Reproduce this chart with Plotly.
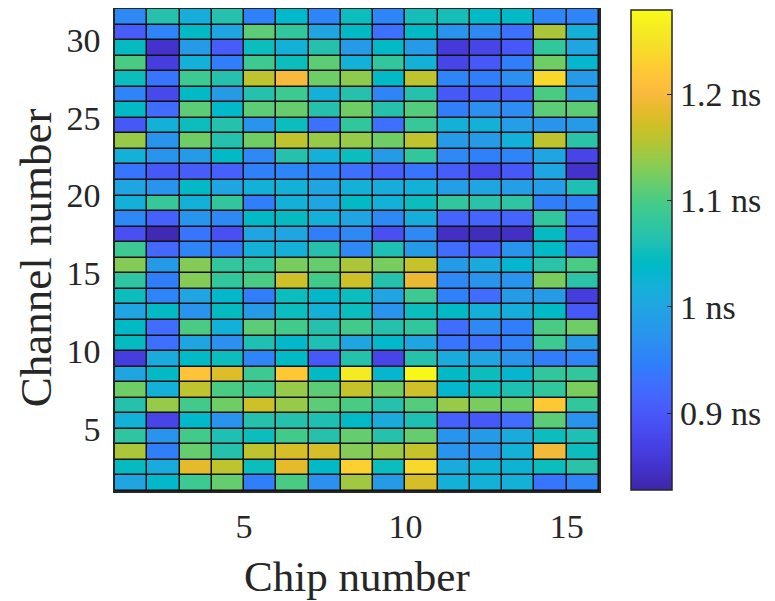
import plotly.graph_objects as go

# Chip numbers (cell edges, pcolor style) and channel numbers (cell edges)
chip_edges = list(range(1, 17))      # 15 cells between 1..16
channel_edges = list(range(1, 33))   # 31 cells between 1..32

# Delay values in ns, one list per channel row (bottom row = channel 1), 15 chips each
ch01 = [1.000, 1.035, 1.090, 1.115, 0.945, 1.100, 0.970, 1.145, 0.985, 1.175, 1.020, 1.020, 1.020, 0.935, 0.955]
ch02 = [1.045, 1.010, 1.185, 1.160, 1.050, 1.185, 1.040, 1.230, 1.050, 1.240, 1.010, 1.025, 1.025, 1.050, 1.070]
ch03 = [1.150, 0.945, 1.115, 1.065, 1.160, 1.175, 1.175, 1.130, 1.140, 1.165, 0.975, 0.975, 1.020, 1.195, 1.050]
ch04 = [1.075, 0.975, 1.095, 1.060, 1.050, 1.095, 1.065, 1.115, 1.065, 1.115, 0.975, 0.985, 1.010, 1.050, 1.060]
ch05 = [1.020, 0.875, 1.035, 0.975, 1.065, 1.065, 1.060, 1.040, 1.010, 1.060, 0.910, 0.900, 0.925, 1.110, 0.975]
ch06 = [1.065, 1.140, 1.095, 1.120, 1.170, 1.140, 1.110, 1.100, 1.065, 1.105, 1.140, 1.125, 1.120, 1.220, 1.080]
ch07 = [1.120, 1.020, 1.160, 1.100, 1.090, 1.140, 1.110, 1.165, 1.120, 1.170, 1.030, 1.050, 1.060, 1.080, 1.125]
ch08 = [1.000, 1.040, 1.215, 1.180, 1.090, 1.220, 1.040, 1.260, 1.030, 1.275, 1.040, 1.050, 1.030, 1.080, 1.080]
ch09 = [0.865, 1.010, 1.040, 1.050, 0.955, 1.040, 0.900, 1.065, 0.875, 1.065, 1.010, 1.000, 0.975, 0.945, 0.955]
ch10 = [1.045, 0.930, 1.000, 0.970, 1.060, 1.035, 1.060, 1.000, 1.035, 1.000, 0.935, 0.930, 0.950, 1.090, 0.985]
ch11 = [1.040, 0.925, 1.100, 1.020, 1.110, 1.095, 1.065, 1.095, 1.065, 1.080, 0.925, 0.960, 0.945, 1.100, 1.120]
ch12 = [1.000, 1.040, 0.975, 1.045, 0.985, 1.050, 1.020, 1.050, 0.975, 1.050, 1.040, 1.020, 1.015, 1.040, 0.900]
ch13 = [1.050, 0.955, 1.000, 1.035, 0.945, 1.050, 1.035, 1.050, 1.000, 1.090, 0.950, 0.925, 0.985, 0.985, 0.865]
ch14 = [1.075, 0.945, 1.130, 1.080, 1.100, 1.170, 1.095, 1.170, 1.065, 1.190, 0.960, 0.975, 0.975, 1.125, 1.070]
ch15 = [1.130, 0.985, 1.130, 1.080, 1.080, 1.125, 1.115, 1.150, 1.125, 1.165, 0.985, 1.010, 1.030, 1.070, 1.100]
ch16 = [1.090, 0.920, 0.955, 0.945, 1.020, 1.020, 1.065, 0.960, 1.060, 0.985, 0.925, 0.910, 0.975, 1.040, 0.925]
ch17 = [0.890, 0.835, 0.935, 0.890, 1.000, 1.000, 0.945, 0.960, 0.890, 0.960, 0.845, 0.840, 0.845, 1.045, 0.900]
ch18 = [0.960, 0.910, 0.975, 0.960, 1.040, 1.045, 1.020, 1.000, 0.960, 1.015, 0.915, 0.915, 0.915, 1.080, 0.925]
ch19 = [1.020, 1.085, 1.020, 1.080, 0.945, 1.020, 1.000, 1.040, 1.020, 1.050, 1.080, 1.070, 1.075, 0.945, 0.945]
ch20 = [1.000, 0.975, 1.040, 1.000, 1.020, 1.020, 1.000, 1.020, 1.015, 1.020, 0.990, 1.000, 0.990, 0.990, 1.060]
ch21 = [0.935, 0.900, 0.905, 0.910, 0.950, 0.955, 0.950, 0.930, 0.910, 0.935, 0.905, 0.880, 0.900, 1.000, 0.850]
ch22 = [1.020, 0.975, 0.985, 1.040, 0.960, 1.065, 1.020, 1.050, 0.985, 1.080, 0.960, 0.950, 0.955, 1.000, 0.875]
ch23 = [1.140, 0.975, 1.120, 1.065, 1.120, 1.160, 1.140, 1.140, 1.120, 1.160, 0.985, 0.985, 1.020, 1.160, 1.070]
ch24 = [0.900, 1.020, 1.050, 1.065, 0.975, 1.050, 0.930, 1.080, 0.930, 1.085, 1.020, 1.020, 0.990, 0.975, 0.985]
ch25 = [1.040, 0.925, 1.110, 1.035, 1.110, 1.115, 1.065, 1.120, 1.065, 1.105, 0.945, 0.970, 0.965, 1.110, 1.110]
ch26 = [0.955, 0.880, 1.040, 0.985, 1.065, 1.090, 1.020, 1.065, 0.955, 1.065, 0.900, 0.900, 0.905, 1.100, 0.985]
ch27 = [1.050, 0.935, 1.090, 1.065, 1.160, 1.200, 1.120, 1.135, 1.040, 1.160, 0.955, 0.945, 0.970, 1.240, 0.985]
ch28 = [1.100, 0.865, 1.020, 0.945, 1.090, 1.050, 1.110, 1.020, 1.080, 1.020, 0.875, 0.900, 0.945, 1.120, 1.030]
ch29 = [1.045, 0.850, 0.985, 0.905, 1.050, 1.020, 1.065, 0.985, 1.040, 0.985, 0.860, 0.875, 0.900, 1.080, 1.000]
ch30 = [0.905, 0.955, 1.040, 1.000, 1.110, 1.080, 1.000, 1.040, 0.930, 1.040, 0.975, 0.960, 0.930, 1.150, 1.020]
ch31 = [0.960, 1.065, 1.015, 1.065, 0.950, 1.035, 0.955, 1.050, 0.955, 1.055, 1.055, 1.040, 1.040, 0.955, 0.955]

delay_rows = [ch01, ch02, ch03, ch04, ch05, ch06, ch07, ch08, ch09, ch10,
              ch11, ch12, ch13, ch14, ch15, ch16, ch17, ch18, ch19, ch20,
              ch21, ch22, ch23, ch24, ch25, ch26, ch27, ch28, ch29, ch30, ch31]

x_tick_vals = [5, 10, 15]
y_tick_vals = [5, 10, 15, 20, 25, 30]
cbar_tick_vals = [0.9, 1.0, 1.1, 1.2]
cbar_tick_text = ["0.9 ns", "1 ns", "1.1 ns", "1.2 ns"]
c_min, c_max = 0.828, 1.279
x_title = "Chip number"
y_title = "Channel number"

# MATLAB parula colormap (64 entries)
parula = [
    (0.2422, 0.1504, 0.6603), (0.2504, 0.1650, 0.7076), (0.2578, 0.1818, 0.7511), (0.2647, 0.1978, 0.7952),
    (0.2706, 0.2147, 0.8364), (0.2751, 0.2342, 0.8710), (0.2783, 0.2559, 0.8991), (0.2803, 0.2782, 0.9221),
    (0.2813, 0.3006, 0.9414), (0.2810, 0.3228, 0.9579), (0.2795, 0.3447, 0.9717), (0.2760, 0.3667, 0.9829),
    (0.2699, 0.3892, 0.9906), (0.2602, 0.4123, 0.9952), (0.2440, 0.4358, 0.9988), (0.2206, 0.4603, 0.9973),
    (0.1963, 0.4847, 0.9892), (0.1834, 0.5074, 0.9798), (0.1786, 0.5289, 0.9682), (0.1764, 0.5499, 0.9520),
    (0.1687, 0.5703, 0.9359), (0.1540, 0.5902, 0.9218), (0.1460, 0.6091, 0.9079), (0.1380, 0.6276, 0.8973),
    (0.1248, 0.6459, 0.8883), (0.1113, 0.6635, 0.8763), (0.0952, 0.6798, 0.8598), (0.0689, 0.6948, 0.8394),
    (0.0297, 0.7082, 0.8163), (0.0036, 0.7203, 0.7917), (0.0067, 0.7312, 0.7660), (0.0433, 0.7411, 0.7394),
    (0.0964, 0.7500, 0.7120), (0.1408, 0.7584, 0.6842), (0.1717, 0.7670, 0.6554), (0.1938, 0.7758, 0.6251),
    (0.2161, 0.7843, 0.5923), (0.2470, 0.7918, 0.5567), (0.2906, 0.7973, 0.5188), (0.3406, 0.8008, 0.4789),
    (0.3909, 0.8029, 0.4354), (0.4456, 0.8024, 0.3909), (0.5044, 0.7993, 0.3480), (0.5616, 0.7942, 0.3045),
    (0.6174, 0.7876, 0.2612), (0.6720, 0.7793, 0.2227), (0.7242, 0.7698, 0.1910), (0.7738, 0.7598, 0.1646),
    (0.8203, 0.7498, 0.1535), (0.8634, 0.7406, 0.1596), (0.9035, 0.7330, 0.1774), (0.9393, 0.7288, 0.2100),
    (0.9728, 0.7298, 0.2394), (0.9956, 0.7434, 0.2371), (0.9970, 0.7659, 0.2199), (0.9952, 0.7893, 0.2028),
    (0.9892, 0.8136, 0.1885), (0.9786, 0.8386, 0.1766), (0.9676, 0.8639, 0.1643), (0.9610, 0.8890, 0.1537),
    (0.9597, 0.9135, 0.1423), (0.9628, 0.9373, 0.1265), (0.9691, 0.9606, 0.1064), (0.9769, 0.9839, 0.0805),
]
n = len(parula)
colorscale = [[i / (n - 1), "rgb({:d},{:d},{:d})".format(int(round(r * 255)), int(round(g * 255)), int(round(b * 255)))]
              for i, (r, g, b) in enumerate(parula)]

FONT = "Liberation Serif, Times New Roman, serif"
TXT = "#262626"
TICK_SIZE = 34

fig = go.Figure(go.Heatmap(
    z=delay_rows,
    x=chip_edges,
    y=channel_edges,
    colorscale=colorscale,
    zmin=c_min, zmax=c_max,
    xgap=1.5, ygap=1.5,
    colorbar=dict(
        tickvals=cbar_tick_vals, ticktext=cbar_tick_text,
        tickfont=dict(family=FONT, size=TICK_SIZE, color=TXT),
        ticks="inside", ticklen=5, tickcolor=TXT,
        thickness=41, len=0.995, lenmode="fraction",
        x=1.066, xanchor="left", y=0.5, yanchor="middle",
        outlinewidth=1.5, outlinecolor=TXT,
        xpad=0, ypad=0,
    ),
))

# The page body adds an 8 px offset, so margins are reduced by 8 px on the left and top.
fig.update_layout(
    width=775, height=601,
    margin=dict(l=107, r=184, t=1, b=118, autoexpand=False),
    paper_bgcolor="white",
    plot_bgcolor="#111111",
    font=dict(family=FONT, color=TXT),
    annotations=[
        dict(text=x_title, xref="paper", yref="paper", x=0.5, y=-0.178,
             xanchor="center", yanchor="middle", showarrow=False,
             font=dict(family=FONT, size=43, color=TXT)),
        dict(text=y_title, xref="paper", yref="paper", x=-0.163, y=0.483,
             xanchor="center", yanchor="middle", showarrow=False, textangle=-90,
             font=dict(family=FONT, size=45, color=TXT)),
    ],
)
fig.update_xaxes(
    range=[1, 16], tickvals=x_tick_vals, ticks="", automargin=False,
    tickfont=dict(family=FONT, size=TICK_SIZE, color=TXT),
    showgrid=False, zeroline=False, showline=True, mirror=True, linecolor=TXT, linewidth=1.5,
    ticklabelstandoff=4,
)
fig.update_yaxes(
    range=[1, 32], tickvals=y_tick_vals, ticks="", automargin=False,
    tickfont=dict(family=FONT, size=TICK_SIZE, color=TXT),
    showgrid=False, zeroline=False, showline=True, mirror=True, linecolor=TXT, linewidth=1.5,
    ticklabelstandoff=6,
)

fig.write_html("out.html")
